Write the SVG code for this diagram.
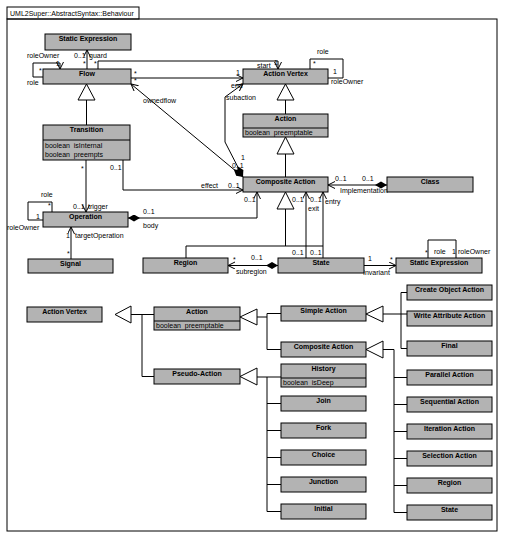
<svg xmlns="http://www.w3.org/2000/svg" width="507" height="536" viewBox="0 0 507 536">
<style>
.n{fill:#b3b3b3;stroke:#000;stroke-width:1}
.t{font-family:"Liberation Sans",Arial,sans-serif;font-size:7px;font-weight:bold;text-anchor:middle}
.a{font-family:"Liberation Sans",Arial,sans-serif;font-size:7px}
.l{font-family:"Liberation Sans",Arial,sans-serif;font-size:7px}
.c{fill:none;stroke:#000;stroke-width:1}
.g{fill:#fff;stroke:#000;stroke-width:1}
</style>
<defs>
<marker id="arr" markerWidth="9" markerHeight="9" refX="7" refY="3.5" orient="auto" markerUnits="userSpaceOnUse"><path d="M0,0 L7,3.5 L0,7" fill="none" stroke="#000" stroke-width="1"/></marker>
<marker id="dia" markerWidth="13" markerHeight="8" refX="0" refY="3.5" orient="auto" markerUnits="userSpaceOnUse"><path d="M0,3.5 L6,0 L12,3.5 L6,7 Z" fill="#000"/></marker>
</defs>
<rect width="507" height="536" fill="#fff"/>
<g id="frame">
<rect x="7" y="7" width="132" height="12" fill="#fff" stroke="#000"/>
<rect x="7" y="19" width="490" height="512" fill="none" stroke="#000"/>
<text class="l" x="10" y="16">UML2Super::AbstractSyntax::Behaviour</text>
</g>
<g id="connectors">
<line class="c" x1="87" y1="69" x2="87" y2="50" marker-end="url(#arr)"/>
<polyline class="c" points="98,69 98,61 278,61 278,69" marker-end="url(#arr)"/>
<line class="c" x1="131" y1="78" x2="243" y2="78" marker-end="url(#arr)"/>
<line class="c" x1="243" y1="177" x2="131" y2="84" marker-start="url(#dia)" marker-end="url(#arr)"/>
<polyline class="c" points="243,177 225,142 225,97 243,84" marker-start="url(#dia)" marker-end="url(#arr)"/>
<polyline class="c" points="43,77 33,77 33,63 60,63 60,69" marker-end="url(#arr)"/>
<polyline class="c" points="310,69 310,59 343,59 343,78 328,78"/>
<polygon class="g" points="86.5,84 78,100 95,100"/>
<line class="c" x1="86.5" y1="100" x2="86.5" y2="125"/>
<polygon class="g" points="285.5,84 277,100 294,100"/>
<line class="c" x1="285.5" y1="100" x2="285.5" y2="114"/>
<polygon class="g" points="285.5,137 277,154 294,154"/>
<line class="c" x1="285.5" y1="154" x2="285.5" y2="177"/>
<line class="c" x1="86" y1="160" x2="86" y2="212" marker-end="url(#arr)"/>
<polyline class="c" points="123,160 123,190 243,190" marker-end="url(#arr)"/>
<polyline class="c" points="128,218 257,218 257,192" marker-start="url(#dia)" marker-end="url(#arr)"/>
<polyline class="c" points="52,212 52,202 28,202 28,220 43,220"/>
<line class="c" x1="71" y1="259" x2="71" y2="227" marker-end="url(#arr)"/>
<line class="c" x1="387" y1="185" x2="328" y2="185" marker-start="url(#dia)" marker-end="url(#arr)"/>
<line class="c" x1="306" y1="258" x2="306" y2="192" marker-end="url(#arr)"/>
<line class="c" x1="323" y1="258" x2="323" y2="192" marker-end="url(#arr)"/>
<polygon class="g" points="285.5,192 277,209 294,209"/>
<line class="c" x1="285.5" y1="209" x2="285.5" y2="246"/>
<polyline class="c" points="186,258 186,246 323,246"/>
<line class="c" x1="278" y1="265.5" x2="228" y2="265.5" marker-start="url(#dia)" marker-end="url(#arr)"/>
<line class="c" x1="364" y1="265.5" x2="396" y2="265.5" marker-end="url(#arr)"/>
<polyline class="c" points="428,258 428,240 456,240 456,258"/>
<polygon class="g" points="115,314.5 131,306 131,323"/>
<polyline class="c" points="131,314.5 154,314.5"/>
<polyline class="c" points="142,314.5 142,376.5 154,376.5"/>
<polygon class="g" points="240,317 257,309 257,325"/>
<line class="c" x1="257" y1="317" x2="267" y2="317"/>
<polyline class="c" points="281,313.5 267,313.5 267,349.5 281,349.5"/>
<polygon class="g" points="366,314 383,306 383,322"/>
<line class="c" x1="383" y1="314" x2="407" y2="314"/>
<polyline class="c" points="407,292.5 401,292.5 401,348.5 407,348.5"/>
<polygon class="g" points="366,349.5 383,341 383,358"/>
<polyline class="c" points="383,349.5 394,349.5 394,512.5 407,512.5"/>
<line class="c" x1="394" y1="377.5" x2="407" y2="377.5"/>
<line class="c" x1="394" y1="404.5" x2="407" y2="404.5"/>
<line class="c" x1="394" y1="431.5" x2="407" y2="431.5"/>
<line class="c" x1="394" y1="458.5" x2="407" y2="458.5"/>
<line class="c" x1="394" y1="485.5" x2="407" y2="485.5"/>
<polygon class="g" points="240,376.5 257,368 257,385"/>
<polyline class="c" points="257,377 267,377 267,511.5 281,511.5"/>
<line class="c" x1="267" y1="377" x2="281" y2="377"/>
<line class="c" x1="267" y1="403.5" x2="281" y2="403.5"/>
<line class="c" x1="267" y1="430.5" x2="281" y2="430.5"/>
<line class="c" x1="267" y1="457.5" x2="281" y2="457.5"/>
<line class="c" x1="267" y1="484.5" x2="281" y2="484.5"/>
</g>
<g id="labels">
<text class="l" x="27" y="58">roleOwner</text>
<text class="l" x="56" y="66">1</text>
<text class="l" x="39" y="73">*</text>
<text class="l" x="27" y="85">role</text>
<text class="l" x="74" y="58">0..1</text>
<text class="l" x="89" y="58">guard</text>
<text class="l" x="83" y="66">*</text>
<text class="l" x="94" y="66">*</text>
<text class="l" x="134" y="76">*</text>
<text class="l" x="134" y="83">*</text>
<text class="l" x="143" y="103">ownedflow</text>
<text class="l" x="257" y="68">start</text>
<text class="l" x="274" y="65">1</text>
<text class="l" x="236" y="75">1</text>
<text class="l" x="231" y="88">end</text>
<text class="l" x="226" y="100">subaction</text>
<text class="l" x="317" y="54">role</text>
<text class="l" x="313" y="66">*</text>
<text class="l" x="333" y="74">1</text>
<text class="l" x="331" y="84">roleOwner</text>
<text class="l" x="232" y="168">0..1</text>
<text class="l" x="241" y="160">1</text>
<text class="l" x="81" y="171">*</text>
<text class="l" x="110" y="170">0..1</text>
<text class="l" x="73" y="209">0..1</text>
<text class="l" x="88" y="209">trigger</text>
<text class="l" x="201" y="188">effect</text>
<text class="l" x="228" y="188">0..1</text>
<text class="l" x="143" y="214">0..1</text>
<text class="l" x="143" y="228">body</text>
<text class="l" x="244" y="202">0..1</text>
<text class="l" x="41" y="197">role</text>
<text class="l" x="48" y="208">*</text>
<text class="l" x="36" y="219">1</text>
<text class="l" x="7" y="230">roleOwner</text>
<text class="l" x="66" y="238">1</text>
<text class="l" x="75" y="238">targetOperation</text>
<text class="l" x="67" y="256">*</text>
<text class="l" x="335" y="181">0..1</text>
<text class="l" x="362" y="181">0..1</text>
<text class="l" x="340" y="193">Implementation</text>
<text class="l" x="292" y="202">0..1</text>
<text class="l" x="310" y="202">0..1</text>
<text class="l" x="308" y="211">exit</text>
<text class="l" x="325" y="204">entry</text>
<text class="l" x="292" y="255">0..1</text>
<text class="l" x="310" y="255">0..1</text>
<text class="l" x="233" y="262">*</text>
<text class="l" x="251" y="260">0..1</text>
<text class="l" x="236" y="274">subregion</text>
<text class="l" x="368" y="261">1</text>
<text class="l" x="390" y="262">*</text>
<text class="l" x="363" y="275">Invariant</text>
<text class="l" x="425" y="255">*</text>
<text class="l" x="434" y="254">role</text>
<text class="l" x="452" y="254">1</text>
<text class="l" x="458" y="254">roleOwner</text>
</g>
<g id="se1"><rect class="n" x="45" y="34" width="86" height="16"/><text class="t" x="88" y="40.5">Static Expression</text></g>
<g id="flow"><rect class="n" x="43" y="69" width="88" height="15"/><text class="t" x="87" y="75.5">Flow</text></g>
<g id="av1"><rect class="n" x="243" y="69" width="85" height="15"/><text class="t" x="285.5" y="75.5">Action Vertex</text></g>
<g id="act1"><rect class="n" x="243" y="114" width="85" height="23"/><line class="c" x1="243" y1="128" x2="328" y2="128"/><text class="t" x="285.5" y="120.5">Action</text><text class="a" x="245" y="134.5">boolean&#160; preemptable</text></g>
<g id="trans"><rect class="n" x="43" y="125" width="87" height="35"/><line class="c" x1="43" y1="140" x2="130" y2="140"/><text class="t" x="86.5" y="131.5">Transition</text><text class="a" x="45" y="147.5">boolean&#160; isInternal</text><text class="a" x="45" y="156.5">boolean&#160; preempts</text></g>
<g id="ca1"><rect class="n" x="243" y="177" width="85" height="15"/><text class="t" x="285.5" y="183.5">Composite Action</text></g>
<g id="class"><rect class="n" x="387" y="177" width="86" height="15"/><text class="t" x="430" y="183.5">Class</text></g>
<g id="op"><rect class="n" x="43" y="212" width="85" height="15"/><text class="t" x="85.5" y="218.5">Operation</text></g>
<g id="signal"><rect class="n" x="28" y="259" width="85" height="14"/><text class="t" x="70.5" y="265.5">Signal</text></g>
<g id="region1"><rect class="n" x="143" y="258" width="85" height="15"/><text class="t" x="185.5" y="264.5">Region</text></g>
<g id="state1"><rect class="n" x="278" y="258" width="86" height="15"/><text class="t" x="321" y="264.5">State</text></g>
<g id="se2"><rect class="n" x="396" y="258" width="86" height="15"/><text class="t" x="439" y="264.5">Static Expression</text></g>
<g id="av2"><rect class="n" x="27" y="307" width="75" height="15"/><text class="t" x="64.5" y="313.5">Action Vertex</text></g>
<g id="act2"><rect class="n" x="154" y="307" width="86" height="23"/><line class="c" x1="154" y1="321" x2="240" y2="321"/><text class="t" x="197" y="313.5">Action</text><text class="a" x="156" y="327.5">boolean&#160; preemptable</text></g>
<g id="pa"><rect class="n" x="154" y="369" width="86" height="15"/><text class="t" x="197" y="375.5">Pseudo-Action</text></g>
<g id="sa"><rect class="n" x="281" y="306" width="85" height="15"/><text class="t" x="323.5" y="312.5">Simple Action</text></g>
<g id="ca2"><rect class="n" x="281" y="342" width="85" height="15"/><text class="t" x="323.5" y="348.5">Composite Action</text></g>
<g id="hist"><rect class="n" x="281" y="364" width="85" height="23"/><line class="c" x1="281" y1="378" x2="366" y2="378"/><text class="t" x="323.5" y="370.5">History</text><text class="a" x="283" y="384.5">boolean&#160; isDeep</text></g>
<g id="join"><rect class="n" x="281" y="396" width="85" height="15"/><text class="t" x="323.5" y="402.5">Join</text></g>
<g id="fork"><rect class="n" x="281" y="423" width="85" height="15"/><text class="t" x="323.5" y="429.5">Fork</text></g>
<g id="choice"><rect class="n" x="281" y="450" width="85" height="15"/><text class="t" x="323.5" y="456.5">Choice</text></g>
<g id="junction"><rect class="n" x="281" y="477" width="85" height="15"/><text class="t" x="323.5" y="483.5">Junction</text></g>
<g id="initial"><rect class="n" x="281" y="504" width="85" height="15"/><text class="t" x="323.5" y="510.5">Initial</text></g>
<g id="create"><rect class="n" x="407" y="285" width="85" height="15"/><text class="t" x="449.5" y="291.5">Create Object Action</text></g>
<g id="write"><rect class="n" x="407" y="311" width="85" height="15"/><text class="t" x="449.5" y="317.5">Write Attribute Action</text></g>
<g id="final"><rect class="n" x="407" y="341" width="85" height="15"/><text class="t" x="449.5" y="347.5">Final</text></g>
<g id="parallel"><rect class="n" x="407" y="370" width="85" height="15"/><text class="t" x="449.5" y="376.5">Parallel Action</text></g>
<g id="sequential"><rect class="n" x="407" y="397" width="85" height="15"/><text class="t" x="449.5" y="403.5">Sequential Action</text></g>
<g id="iteration"><rect class="n" x="407" y="424" width="85" height="15"/><text class="t" x="449.5" y="430.5">Iteration Action</text></g>
<g id="selection"><rect class="n" x="407" y="451" width="85" height="15"/><text class="t" x="449.5" y="457.5">Selection Action</text></g>
<g id="region2"><rect class="n" x="407" y="478" width="85" height="15"/><text class="t" x="449.5" y="484.5">Region</text></g>
<g id="state2"><rect class="n" x="407" y="505" width="85" height="15"/><text class="t" x="449.5" y="511.5">State</text></g>
</svg>
